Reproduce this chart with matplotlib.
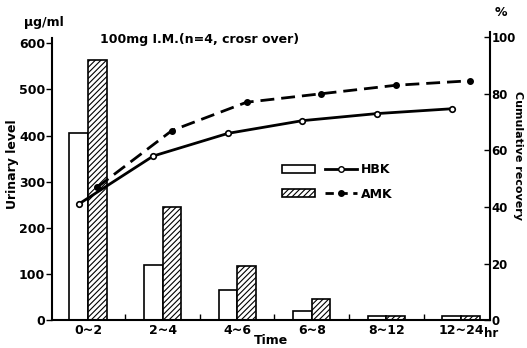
import numpy as np
import matplotlib.pyplot as plt
from matplotlib.patches import Patch
from matplotlib.lines import Line2D
from matplotlib.legend_handler import HandlerTuple

# data
periods = ['0~2', '2~4', '4~6', '6~8', '8~12', '12~24']
hbk_level = [405, 119, 66, 20, 10, 8]      # urinary level, ug/ml
amk_level = [563, 245, 117, 45, 10, 8]
hbk_recovery = [41, 58, 66, 70.5, 73, 74.7]  # cumulative recovery, %
amk_recovery = [47, 67, 77, 80, 83, 84.6]

plt.rcParams['font.family'] = 'DejaVu Sans'
plt.rcParams['font.weight'] = 'bold'
plt.rcParams['axes.labelweight'] = 'bold'
plt.rcParams['hatch.linewidth'] = 0.8

fig = plt.figure(figsize=(5.27, 3.48), dpi=100)
ax = fig.add_axes([0.099, 0.080, 0.831, 0.862])
ax2 = ax.twinx()

x = np.arange(len(periods))
w = 0.25
ax.bar(x - w / 2, hbk_level, w, color='white', edgecolor='black', linewidth=1.2)
ax.bar(x + w / 2, amk_level, w, color='white', edgecolor='black', linewidth=1.2, hatch='//////')

ax2.plot(x - w / 2, hbk_recovery, '-o', color='black', lw=2, ms=4,
         mfc='white', mec='black', mew=1.2)
ax2.plot(x + w / 2, amk_recovery, '--o', color='black', lw=2, ms=4,
         dashes=(5, 2.5), mfc='black', mec='black')

ax.set_xlim(-0.48, 5.39)
ax.set_ylim(0, 650)
ax2.set_ylim(0, 106)

ax.set_xticks(x)
ax.set_xticklabels(periods, fontsize=9)
ax.set_xticks(x[:-1] + 0.5, minor=True)
ax.tick_params(axis='x', which='major', length=0, pad=3)
ax.tick_params(axis='x', which='minor', direction='in', length=4, width=1)
ax.text(5.31, -0.045, 'hr', transform=ax.get_xaxis_transform(), fontsize=8.5,
        ha='left', va='center')
ax.set_xlabel('Time', fontsize=9)
ax.xaxis.set_label_coords(0.5, -0.045)

ax.set_yticks(range(0, 601, 100))
ax.tick_params(axis='y', labelsize=9, length=4, width=1, direction='out', pad=1)
ax.set_ylabel('Urinary level', fontsize=9)
ax.yaxis.set_label_coords(-0.075, 0.52)
ax.text(-0.065, 0.993, 'μg/ml', transform=ax.transAxes, fontsize=9, ha='left', va='center')

ax2.set_yticks(range(0, 101, 20))
ax2.tick_params(axis='y', labelsize=8.5, length=4, width=1, direction='in', pad=1)
ax2.set_ylabel('Cumulative recovery', fontsize=8, rotation=-90)
ax2.yaxis.set_label_coords(1.076, 0.55)
ax2.text(1.01, 1.027, '%', transform=ax.transAxes, fontsize=9, ha='left', va='center')

for a in (ax, ax2):
    a.spines['top'].set_visible(False)
    for s in a.spines.values():
        s.set_linewidth(1.5)
ax.spines['right'].set_visible(False)
ax2.spines['left'].set_visible(False)
ax2.spines['bottom'].set_visible(False)
ax.spines['left'].set_bounds(0, 612)
ax2.spines['right'].set_bounds(0, 102)

ax.text(0.11, 0.935, '100mg I.M.(n=4, crosr over)', transform=ax.transAxes,
        fontsize=9, ha='left', va='center')

handles = [
    (Patch(facecolor='white', edgecolor='black', linewidth=1.2),
     Line2D([], [], ls='-', marker='o', color='black', lw=2, ms=4, mfc='white')),
    (Patch(facecolor='white', edgecolor='black', linewidth=1.2, hatch='//////'),
     Line2D([], [], ls='--', marker='o', color='black', lw=2, ms=4, dashes=(3, 2))),
]
ax2.legend(handles, ['HBK', 'AMK'], handler_map={tuple: HandlerTuple(ndivide=None, pad=0.8)},
           loc='upper left', bbox_to_anchor=(0.5, 0.56), frameon=False,
           handlelength=6, handleheight=0.6, fontsize=9, labelspacing=0.9,
           handletextpad=0.3)

fig.savefig('out.png', dpi=100)
